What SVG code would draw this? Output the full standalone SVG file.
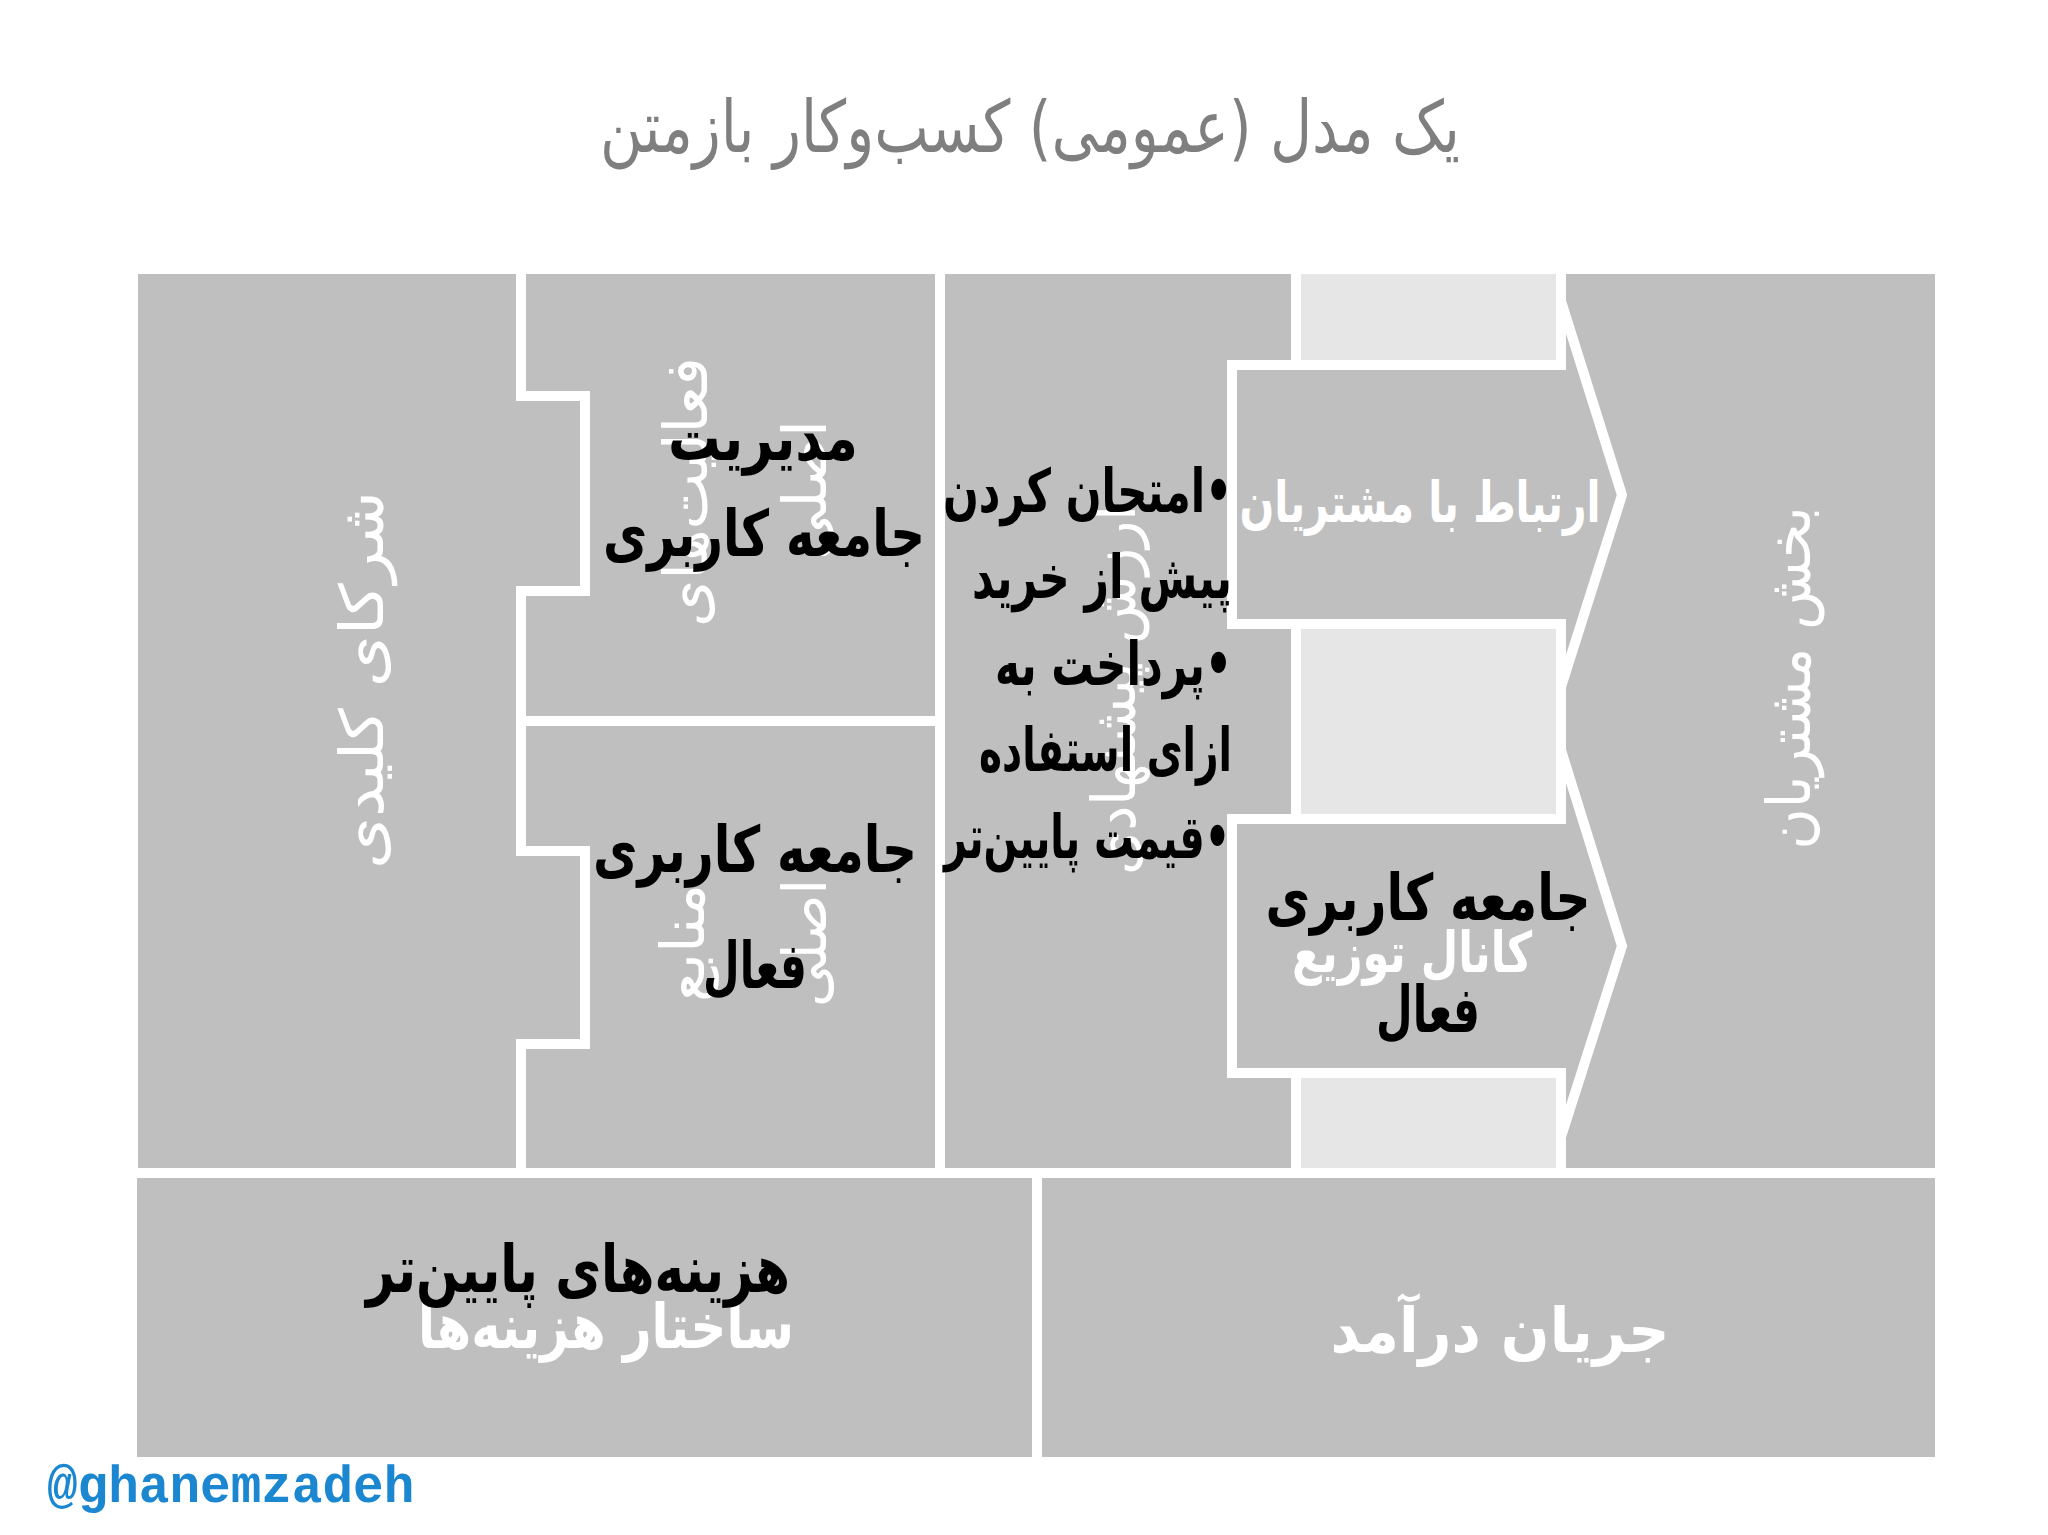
<svg xmlns="http://www.w3.org/2000/svg" width="2048" height="1535" viewBox="0 0 2048 1535">
<defs>
<style>
.blk{fill:#bfbfbf;stroke:#ffffff;stroke-width:10;stroke-linejoin:miter}
.lite{fill:#e6e6e6;stroke:#ffffff;stroke-width:10}
.wl{fill:#ffffff;font-family:"DejaVu Sans",sans-serif;direction:rtl}
.wb{fill:#ffffff;font-family:"DejaVu Sans",sans-serif;font-weight:bold;direction:rtl}
.bk{fill:#000000;font-family:"DejaVu Sans",sans-serif;font-weight:bold;direction:rtl}
.title{fill:#7f7f7f;font-family:"DejaVu Sans",sans-serif;direction:rtl}
.wm{fill:#1b87d0;font-family:"Liberation Mono","Courier New",monospace;font-weight:bold}
</style>
</defs>
<rect width="2048" height="1535" fill="#ffffff"/>
<text class="title" x="1030" y="152" font-size="72" text-anchor="middle" textLength="860" lengthAdjust="spacingAndGlyphs">یک مدل (عمومی) کسب‌وکار بازمتن</text>

<g id="canvas">
<g id="key-partners">
<polygon class="blk" points="133,269 521,269 521,396 585,396 585,591 521,591 521,851 585,851 585,1044 521,1044 521,1173 133,1173"/>
<text class="wl" transform="translate(365,680) rotate(-90)" x="0" y="18" font-size="60" text-anchor="middle" textLength="378" lengthAdjust="spacingAndGlyphs">شرکای کلیدی</text>
</g>
<g id="key-activities">
<polygon class="blk" points="521,269 940,269 940,721 521,721 521,591 585,591 585,396 521,396"/>
<text class="wl" transform="translate(689,492) rotate(-90)" x="0" y="18" font-size="60" text-anchor="middle" textLength="270" lengthAdjust="spacingAndGlyphs">فعالیت‌های</text>
<text class="wl" transform="translate(808,490) rotate(-90)" x="0" y="18" font-size="60" text-anchor="middle" textLength="140" lengthAdjust="spacingAndGlyphs">اصلی</text>
<text class="bk" x="763" y="460" font-size="64" text-anchor="middle" textLength="190" lengthAdjust="spacingAndGlyphs">مدیریت</text>
<text class="bk" x="764" y="556" font-size="64" text-anchor="middle" textLength="322" lengthAdjust="spacingAndGlyphs">جامعه کاربری</text>
</g>
<g id="key-resources">
<polygon class="blk" points="521,721 940,721 940,1173 521,1173 521,1044 585,1044 585,851 521,851"/>
<text class="wl" transform="translate(686,943) rotate(-90)" x="0" y="18" font-size="60" text-anchor="middle" textLength="118" lengthAdjust="spacingAndGlyphs">منابع</text>
<text class="wl" transform="translate(808,943) rotate(-90)" x="0" y="18" font-size="60" text-anchor="middle" textLength="128" lengthAdjust="spacingAndGlyphs">اصلی</text>
<text class="bk" x="755" y="872" font-size="64" text-anchor="middle" textLength="324" lengthAdjust="spacingAndGlyphs">جامعه کاربری</text>
<text class="bk" x="755" y="988" font-size="64" text-anchor="middle" textLength="104" lengthAdjust="spacingAndGlyphs">فعال</text>
</g>
<g id="value-proposition">
<polygon class="blk" points="940,269 1296,269 1296,1173 940,1173"/>
<text class="wl" transform="translate(1117,690) rotate(-90)" x="0" y="18" font-size="60" text-anchor="middle" textLength="370" lengthAdjust="spacingAndGlyphs">ارزش پیشنهادی</text>
</g>
<rect id="channel-band" class="lite" x="1296" y="269" width="265" height="904"/>
<g id="customer-segments">
<polygon class="blk" points="1561,269 1940,269 1940,1173 1561,1173"/>
<text class="wl" transform="translate(1792,678) rotate(-90)" x="0" y="18" font-size="60" text-anchor="middle" textLength="343" lengthAdjust="spacingAndGlyphs">بخش مشتریان</text>
</g>
<g id="customer-relationships">
<polygon class="blk" points="1232,365 1561,365 1561,301 1622,495 1561,687 1561,624 1232,624"/>
<text class="wb" x="1420" y="522" font-size="56" text-anchor="middle" textLength="361" lengthAdjust="spacingAndGlyphs">ارتباط با مشتریان</text>
</g>
<g id="value-text">
<text class="bk" x="1232" y="512" font-size="60" text-anchor="start" textLength="289" lengthAdjust="spacingAndGlyphs">•امتحان کردن</text>
<text class="bk" x="1232" y="598" font-size="60" text-anchor="start" textLength="260" lengthAdjust="spacingAndGlyphs">پیش از خرید</text>
<text class="bk" x="1232" y="685" font-size="60" text-anchor="start" textLength="237" lengthAdjust="spacingAndGlyphs">•پرداخت به</text>
<text class="bk" x="1232" y="771" font-size="60" text-anchor="start" textLength="253" lengthAdjust="spacingAndGlyphs">ازای استفاده</text>
<text class="bk" x="1230" y="858" font-size="60" text-anchor="start" textLength="286" lengthAdjust="spacingAndGlyphs">•قیمت پایین‌تر</text>
</g>
<g id="channels">
<polygon class="blk" points="1232,819 1561,819 1561,750 1622,946 1561,1137 1561,1073 1232,1073"/>
<text class="wb" x="1412" y="972" font-size="56" text-anchor="middle" textLength="240" lengthAdjust="spacingAndGlyphs">کانال توزیع</text>
<text class="bk" x="1428" y="920" font-size="64" text-anchor="middle" textLength="325" lengthAdjust="spacingAndGlyphs">جامعه کاربری</text>
<text class="bk" x="1428" y="1032" font-size="64" text-anchor="middle" textLength="104" lengthAdjust="spacingAndGlyphs">فعال</text>
</g>
</g>

<g id="bottom">
<g id="cost-structure">
<rect class="blk" x="132" y="1173" width="905" height="289"/>
<text class="wb" x="606" y="1348" font-size="62" text-anchor="middle" textLength="376" lengthAdjust="spacingAndGlyphs">ساختار هزینه‌ها</text>
<text class="bk" x="578" y="1292" font-size="66" text-anchor="middle" textLength="424" lengthAdjust="spacingAndGlyphs">هزینه‌های پایین‌تر</text>
</g>
<g id="revenue-streams">
<rect class="blk" x="1037" y="1173" width="903" height="289"/>
<text class="wb" x="1500" y="1352" font-size="62" text-anchor="middle" textLength="339" lengthAdjust="spacingAndGlyphs">جریان درآمد</text>
</g>
</g>
<g id="connectors"></g>
<text class="wm" x="47" y="1502" font-size="51">@ghanemzadeh</text>
</svg>
